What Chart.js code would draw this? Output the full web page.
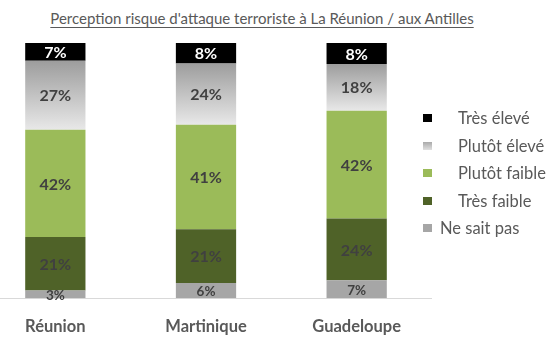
<!DOCTYPE html>
<html>
<head>
<meta charset="utf-8">
<script src="https://cdn.jsdelivr.net/npm/chart.js@4.4.1/dist/chart.umd.min.js"></script>
<style>
html,body{margin:0;padding:0;width:556px;height:356px;overflow:hidden;background:#fff;}
#title{position:absolute;left:0;top:9px;width:524px;text-align:center;font-family:Lato,sans-serif;font-size:15px;line-height:18px;color:#595959;text-decoration:underline;text-underline-offset:3px;white-space:nowrap;}
#wrap{position:absolute;left:-20px;top:0;width:452px;height:356px;}
#legend{position:absolute;left:423px;top:108px;margin:0;padding:0;list-style:none;font-family:Lato,sans-serif;font-size:16.5px;color:#595959;}
#legend li{position:relative;height:27.5px;line-height:20px;white-space:nowrap;}
#legend .box{position:absolute;left:0;top:6px;width:9px;height:8px;}
#legend .txt{position:absolute;top:0;}
</style>
</head>
<body>
<div id="title">Perception risque d'attaque terroriste à La Réunion / aux Antilles</div>
<div id="wrap"><canvas id="c" width="452" height="356"></canvas></div>
<ul id="legend"></ul>
<script>
// ---- data ----
const categories = ['Réunion', 'Martinique', 'Guadeloupe'];
const seriesNames = ['Ne sait pas', 'Très faible', 'Plutôt faible', 'Plutôt élevé', 'Très élevé'];
const neSaitPas    = [3, 6, 7];
const tresFaible   = [21, 21, 24.2];
const plutotFaible = [42, 41, 42.3];
const plutotEleve  = [27, 24, 18.3];
const tresEleve    = [7, 8, 8.2];

const allSeries = [neSaitPas, tresFaible, plutotFaible, plutotEleve, tresEleve];

// gradient fill for "Plutôt élevé" segments, computed from the scale
function eleveGradient(ctx) {
  const chart = ctx.chart;
  const y = chart.scales && chart.scales.y;
  if (ctx.type !== 'data' || !chart.chartArea || !y || y.top === undefined) return '#c8c8c8';
  const di = ctx.dataIndex;
  let start = 0;
  for (let k = 0; k < ctx.datasetIndex; k++) start += allSeries[k][di];
  const end = start + allSeries[ctx.datasetIndex][di];
  const yTop = y.getPixelForValue(end), yBot = y.getPixelForValue(start);
  if (!isFinite(yTop) || !isFinite(yBot)) return '#c8c8c8';
  const g = chart.ctx.createLinearGradient(0, yTop, 0, yBot);
  g.addColorStop(0, '#9d9d9d');
  g.addColorStop(1, '#e8e8e8');
  return g;
}

const styles = [
  {bg: '#a6a6a6', legendBg: '#a6a6a6', label: '#404040', font: 'bold 13.5px Lato', indent: 17},
  {bg: '#4f6228', legendBg: '#4f6228', label: '#404040', font: 'bold 16px Lato', indent: 35},
  {bg: '#9bbb59', legendBg: '#9bbb59', label: '#404040', font: 'bold 16px Lato', indent: 35},
  {bg: eleveGradient, legendBg: 'linear-gradient(#aaaaaa,#e0e0e0)', label: '#404040', font: 'bold 16px Lato', indent: 35},
  {bg: '#000000', legendBg: '#000000', label: '#ffffff', font: 'bold 16px Lato', indent: 35}
];

const datasets = seriesNames.map((name, i) => ({
  label: name,
  data: allSeries[i],
  backgroundColor: styles[i].bg,
  borderWidth: 0,
  categoryPercentage: 1,
  barPercentage: 0.4
}));

const valueLabels = {
  id: 'valueLabels',
  afterDatasetsDraw(chart) {
    const ctx = chart.ctx;
    ctx.save();
    ctx.textAlign = 'center';
    ctx.textBaseline = 'middle';
    chart.data.datasets.forEach((ds, i) => {
      const meta = chart.getDatasetMeta(i);
      meta.data.forEach((el, j) => {
        const v = ds.data[j];
        ctx.font = styles[i].font;
        ctx.fillStyle = styles[i].label;
        ctx.fillText(Math.round(v) + '%', el.x, (el.y + el.base) / 2 + 1);
      });
    });
    ctx.restore();
  }
};

const htmlLegend = {
  id: 'htmlLegend',
  afterUpdate(chart) {
    const ul = document.getElementById('legend');
    ul.innerHTML = '';
    const items = chart.data.datasets.map((ds, i) => ({text: ds.label, i})).reverse();
    items.forEach(it => {
      const li = document.createElement('li');
      const box = document.createElement('span');
      box.className = 'box';
      box.style.background = styles[it.i].legendBg;
      const txt = document.createElement('span');
      txt.className = 'txt';
      txt.style.left = styles[it.i].indent + 'px';
      txt.textContent = it.text;
      li.appendChild(box);
      li.appendChild(txt);
      ul.appendChild(li);
    });
  }
};

new Chart(document.getElementById('c'), {
  type: 'bar',
  data: {labels: categories, datasets},
  options: {
    responsive: false,
    animation: false,
    devicePixelRatio: 1,
    layout: {padding: {top: 43, bottom: 0, left: 0, right: 0}},
    plugins: {legend: {display: false}, title: {display: false}, tooltip: {enabled: false}},
    scales: {
      x: {
        stacked: true,
        grid: {display: false, drawTicks: false},
        border: {display: true, color: '#d9d9d9', width: 1},
        ticks: {color: '#595959', padding: 19, font: {family: 'Lato', size: 16.5, weight: 'bold'}}
      },
      y: {stacked: true, display: false, min: 0, max: 100}
    }
  },
  plugins: [valueLabels, htmlLegend]
});
</script>
</body>
</html>
